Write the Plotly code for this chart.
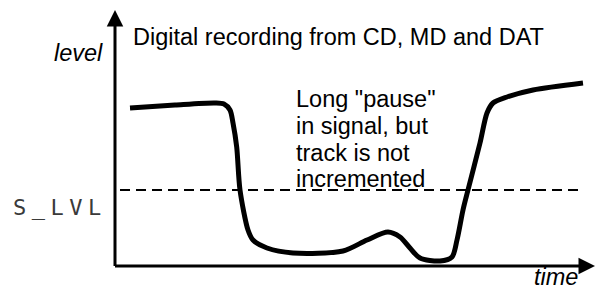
import plotly.graph_objects as go

# Signal curve (time, level); origin at the axes crossing
time = [15, 60, 100, 109, 115, 118, 121.7, 125, 133, 138, 152, 178, 228, 252, 273, 285,
        295, 305, 325, 337, 342, 348, 353, 365, 372, 378, 392, 418, 468]
level = [158, 161, 163, 162, 156, 143, 119, 76, 36, 26, 18, 13, 15, 26, 34, 29,
         18, 8, 5, 9, 26, 56, 76, 123, 153, 163, 169, 176, 183]

s_lvl = 76          # threshold level
x_end = 480         # time axis arrow tip
y_end = 256         # level axis arrow tip

title = "Digital recording from CD, MD and DAT"
note_lines = ["Long \"pause\"", "in signal, but", "track is not", "incremented"]
note_levels = [167, 140, 113.5, 87]

fig = go.Figure()
fig.add_trace(go.Scatter(x=time, y=level, mode="lines",
                         line=dict(color="black", width=5, shape="spline", smoothing=0.8),
                         hoverinfo="skip", showlegend=False))

# threshold dashed line
fig.add_shape(type="line", x0=5, x1=468, y0=s_lvl, y1=s_lvl, xref="x", yref="y",
              line=dict(color="black", width=2, dash="10px,6px"))

# axes with arrows
fig.add_annotation(x=0, y=y_end, ax=0, ay=-1.5, xref="x", yref="y", axref="x", ayref="y",
                   showarrow=True, arrowhead=2, arrowsize=1.1, arrowwidth=3, arrowcolor="black",
                   text="", standoff=0, startstandoff=0)
fig.add_annotation(x=x_end, y=0, ax=-1.5, ay=0, xref="x", yref="y", axref="x", ayref="y",
                   showarrow=True, arrowhead=2, arrowsize=1.1, arrowwidth=3, arrowcolor="black",
                   text="", standoff=0, startstandoff=0)

font = dict(family="Liberation Sans, Arial, Helvetica, sans-serif", size=23.5, color="black")
fig.add_annotation(x=16, y=229.5, xref="x", yref="y", text=title, showarrow=False,
                   xanchor="left", yanchor="middle", font=font)
fig.add_annotation(x=-10, y=213, xref="x", yref="y", text="<i>level</i>", showarrow=False,
                   xanchor="right", yanchor="middle", font=font)
fig.add_annotation(x=465, y=-10.5, xref="x", yref="y", text="<i>time</i>", showarrow=False,
                   xanchor="right", yanchor="middle", font=font)
for ln, lv in zip(note_lines, note_levels):
    fig.add_annotation(x=179, y=lv, xref="x", yref="y", text=ln, showarrow=False,
                       xanchor="left", yanchor="middle", font=font)
fig.add_annotation(x=-104, y=58.5, xref="x", yref="y",
                   text="<span style='letter-spacing:5.5px'>S_LVL</span>", showarrow=False,
                   xanchor="left", yanchor="middle",
                   font=dict(family="DejaVu Sans Mono, monospace", size=22, color="#3a3a3a"))

fig.update_layout(width=600, height=290, margin=dict(l=0, r=0, t=0, b=0),
                  paper_bgcolor="white", plot_bgcolor="white",
                  xaxis=dict(range=[-115, 485], visible=False, fixedrange=True),
                  yaxis=dict(range=[-24, 266], visible=False, fixedrange=True))
fig.write_html("out.html", config={"displayModeBar": False},
               post_script="document.body.style.margin='0px';")
